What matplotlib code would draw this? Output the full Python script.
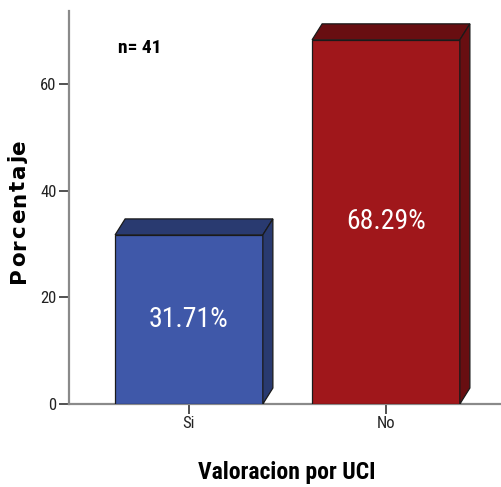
import matplotlib
matplotlib.use("Agg")
import matplotlib.pyplot as plt
from matplotlib.patches import Polygon

categories = ["Si", "No"]
percentages = [31.71, 68.29]
value_labels = ["31.71%", "68.29%"]
n_total = 41
yticks = [0, 20, 40, 60]

front_colors = ["#3F58A9", "#A0171B"]
shade_colors = ["#293A70", "#680E11"]

narrow = ["Roboto Condensed", "Archivo Narrow", "Liberation Sans", "DejaVu Sans"]
wide = ["DejaVu Sans"]

W, H = 502, 487
fig = plt.figure(figsize=(W / 100, H / 100), dpi=100)
ax = fig.add_axes([69 / W, 83 / H, (W - 69) / W, (404 - 11) / H])

x = list(range(len(categories)))
bar_w = 0.75
dx, dy = 0.051, 3.0

ax.bar(x, percentages, width=bar_w, color=front_colors,
       edgecolor="#1a1a1a", linewidth=0.9, zorder=3)

# 3-D look: top face and right side face of each bar
for xi, h, shade in zip(x, percentages, shade_colors):
    x0, x1 = xi - bar_w / 2, xi + bar_w / 2
    top = Polygon([(x0, h), (x0 + dx, h + dy), (x1 + dx, h + dy), (x1, h)],
                  closed=True, facecolor=shade, edgecolor="#1a1a1a",
                  linewidth=0.9, zorder=3)
    side = Polygon([(x1, 0), (x1 + dx, dy), (x1 + dx, h + dy), (x1, h)],
                   closed=True, facecolor=shade, edgecolor="#1a1a1a",
                   linewidth=0.9, zorder=3)
    ax.add_patch(top)
    ax.add_patch(side)

for xi, h, lab in zip(x, percentages, value_labels):
    ax.text(xi, h / 2, lab, ha="center", va="center", color="white",
            fontsize=20, family=narrow, zorder=4)

ax.set_xlim(-0.609, 1.589)
ax.set_ylim(0, 73.7)
ax.set_xticks(x)
ax.set_xticklabels(categories, family=narrow, fontsize=12, color="#222222")
ax.set_yticks(yticks)
ax.set_yticklabels([str(t) for t in yticks], family=narrow, fontsize=12,
                   color="#222222")
ax.tick_params(axis="both", direction="out", length=7, width=1.2,
               color="#333333", pad=2)

for s in ("top", "right"):
    ax.spines[s].set_visible(False)
for s in ("left", "bottom"):
    ax.spines[s].set_color("#8a8a8a")
    ax.spines[s].set_linewidth(1.6)

fig.text(118 / W, 1 - 48 / H, f"n= {n_total}", ha="left", va="center",
         fontsize=14, fontweight="bold", family=narrow)

fig.text(287 / W, 1 - 472 / H, "Valoracion por UCI", ha="center",
         va="center", fontsize=17, fontweight="bold", family=narrow)

# slightly spaced vertical axis title
ytitle = "Porcentaje"
fig.canvas.draw()
renderer = fig.canvas.get_renderer()
chars = []
sizes = []
for ch in ytitle:
    t = fig.text(0, 0, ch, rotation=90, fontsize=15.5, fontweight="bold",
                 family=wide, ha="center", va="center")
    sizes.append(t.get_window_extent(renderer).height)
    chars.append(t)
span = 143.0
gap = max((span - sum(sizes)) / (len(chars) - 1), 0.5)
cur = H - 283
for t, s in zip(chars, sizes):
    t.set_position((19 / W, (cur + s / 2) / H))
    cur += s + gap

fig.savefig("out.png", dpi=100)
